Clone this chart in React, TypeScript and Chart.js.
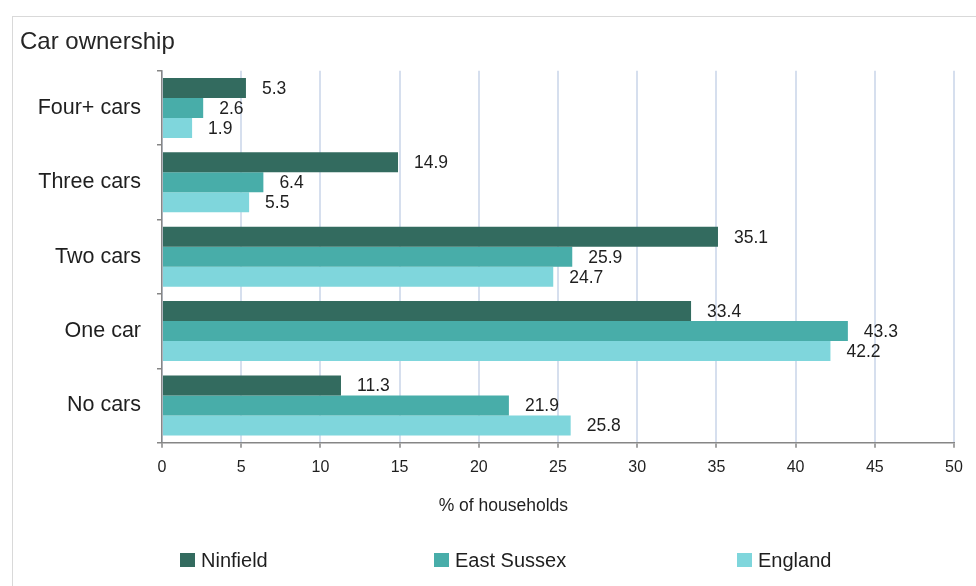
import { useEffect, useRef } from "react";
import { Chart, registerables } from "chart.js";

Chart.register(...registerables);

// Car ownership, % of households
const categories = ["Four+ cars", "Three cars", "Two cars", "One car", "No cars"];
const ninfield = [5.3, 14.9, 35.1, 33.4, 11.3];
const eastSussex = [2.6, 6.4, 25.9, 43.3, 21.9];
const england = [1.9, 5.5, 24.7, 42.2, 25.8];

const seriesNames = ["Ninfield", "East Sussex", "England"];
const seriesColors = ["#336b5f", "#48ada9", "#7fd6dc"];

const xMin = 0;
const xMax = 50;
const xStep = 5;

const chartTitle = "Car ownership";
const xAxisTitle = "% of households";

const FONT = "'Liberation Sans', Arial, sans-serif";
const TEXT = "#1f1f1f";
const AXIS = "#868686";
const GRID = "#d6dfee";

const W = 976;
const H = 586;

// value labels just past the end of each bar
const valueLabels = {
  id: "valueLabels",
  afterDatasetsDraw(chart: any) {
    const ctx = chart.ctx;
    ctx.save();
    ctx.font = `17.5px ${FONT}`;
    ctx.fillStyle = TEXT;
    ctx.textAlign = "left";
    ctx.textBaseline = "middle";
    chart.data.datasets.forEach((ds: any, i: number) => {
      const meta = chart.getDatasetMeta(i);
      meta.data.forEach((bar: any, j: number) => {
        const v = ds.data[j] as number;
        ctx.fillText(v.toFixed(1), bar.x + 16, bar.y + 1);
      });
    });
    ctx.restore();
  },
};

// x axis caption and the series key below the plot
const captionAndKey = {
  id: "captionAndKey",
  afterDraw(chart: any) {
    const ctx = chart.ctx;
    const area = chart.chartArea;
    ctx.save();
    ctx.fillStyle = TEXT;
    ctx.textBaseline = "middle";
    ctx.textAlign = "center";
    ctx.font = `17.5px ${FONT}`;
    ctx.fillText(xAxisTitle, area.left + (area.right - area.left) * 0.431, 506);

    const keyX = [180, 434, 737];
    ctx.font = `20px ${FONT}`;
    ctx.textAlign = "left";
    chart.data.datasets.forEach((ds: any, i: number) => {
      ctx.fillStyle = ds.backgroundColor;
      ctx.fillRect(keyX[i], 553, 15, 14);
      ctx.fillStyle = TEXT;
      ctx.fillText(ds.label, keyX[i] + 21, 561);
    });
    ctx.restore();
  },
};

export default function App() {
  const canvasRef = useRef<HTMLCanvasElement | null>(null);

  useEffect(() => {
    const canvas = canvasRef.current;
    if (!canvas) return;
    const seriesValues = [ninfield, eastSussex, england];
    const chart = new Chart(canvas, {
      type: "bar",
      data: {
        labels: categories,
        datasets: seriesValues.map((values, i) => ({
          label: seriesNames[i],
          data: values,
          backgroundColor: seriesColors[i],
          borderWidth: 0,
          categoryPercentage: 0.806,
          barPercentage: 1,
        })),
      },
      options: {
        indexAxis: "y",
        responsive: false,
        animation: false,
        events: [],
        layout: { padding: { left: 20, right: 22, top: 0, bottom: 60 } },
        plugins: {
          legend: { display: false },
          tooltip: { enabled: false },
          title: {
            display: true,
            text: chartTitle,
            align: "start",
            color: "#262626",
            font: { family: FONT, size: 24, weight: "normal" },
            padding: { top: 27.6, bottom: 14.3 },
          },
        },
        scales: {
          x: {
            type: "linear",
            min: xMin,
            max: xMax,
            ticks: {
              stepSize: xStep,
              color: TEXT,
              font: { family: FONT, size: 16 },
              padding: 10,
            },
            grid: {
              color: GRID,
              lineWidth: 2,
              tickColor: AXIS,
              tickWidth: 1.5,
              tickLength: 5,
            },
            border: { color: AXIS, width: 1.5 },
            afterFit(scale: any) {
              scale.height = 83.3;
            },
          },
          y: {
            type: "category",
            offset: true,
            ticks: {
              color: TEXT,
              font: { family: FONT, size: 21.5 },
              padding: 16,
            },
            grid: {
              offset: true,
              drawOnChartArea: false,
              color: AXIS,
              lineWidth: 1.5,
              tickLength: 5,
            },
            border: { color: AXIS, width: 1.5 },
            afterFit(scale: any) {
              scale.width = 142;
            },
          },
        },
      },
      plugins: [valueLabels, captionAndKey],
    });
    return () => chart.destroy();
  }, []);

  return (
    <div
      style={{
        position: "fixed",
        left: 0,
        top: 0,
        width: W,
        height: H,
        overflow: "hidden",
        background: "#ffffff",
      }}
    >
      <div
        style={{
          position: "absolute",
          left: 12,
          top: 16,
          width: 1000,
          height: 600,
          border: "1px solid #d9d9d9",
        }}
      />
      <canvas
        ref={canvasRef}
        width={W}
        height={H}
        style={{ position: "absolute", left: 0, top: 0, width: W, height: H }}
      />
    </div>
  );
}
